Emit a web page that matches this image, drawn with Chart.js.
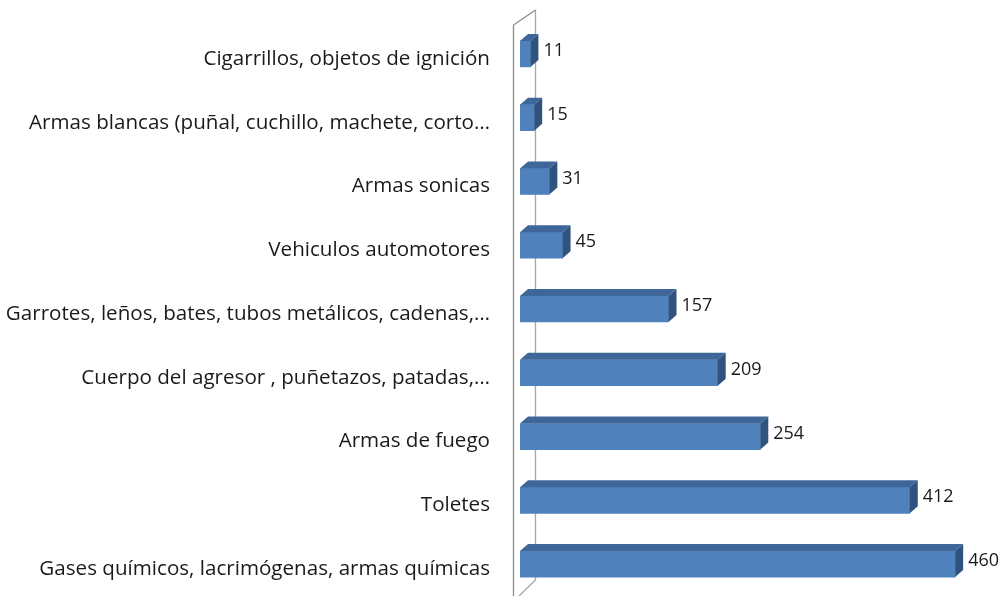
<!DOCTYPE html>
<html>
<head>
<meta charset="utf-8">
<script src="https://cdn.jsdelivr.net/npm/chart.js@4"></script>
<style>
html,body{margin:0;padding:0;background:#fff;}
#wrap{width:1002px;height:596px;position:relative;}
</style>
</head>
<body>
<div id="wrap"><canvas id="c" width="1002" height="596"></canvas></div>
<script>
const categories = [
  "Cigarrillos, objetos de ignición",
  "Armas blancas (puñal, cuchillo, machete, corto…",
  "Armas sonicas",
  "Vehiculos automotores",
  "Garrotes, leños, bates, tubos metálicos, cadenas,…",
  "Cuerpo del agresor , puñetazos, patadas,…",
  "Armas de fuego",
  "Toletes",
  "Gases químicos, lacrimógenas, armas químicas"
];
const values = [11, 15, 31, 45, 157, 209, 254, 412, 460];

const DX = 8, DY = 7;
const FRONT = '#4F81BD', TOP = '#3F6699', SIDE = '#2F527F';

const bar3d = {
  id: 'bar3d',
  beforeDatasetsDraw(chart) {
    const ctx = chart.ctx;
    const x0 = chart.scales.x.getPixelForValue(0);
    ctx.save();
    ctx.lineWidth = 1.3;
    ctx.strokeStyle = '#a6a6a6';
    ctx.beginPath();
    ctx.moveTo(x0 + 15.5, 10);
    ctx.lineTo(x0 + 15.5, 580);
    ctx.lineTo(x0 - 1, 596);
    ctx.stroke();
    ctx.strokeStyle = '#8c8c8c';
    ctx.beginPath();
    ctx.moveTo(x0 - 6.5, 596);
    ctx.lineTo(x0 - 6.5, 25);
    ctx.lineTo(x0 + 15.5, 10);
    ctx.stroke();
    ctx.restore();
  },
  afterDatasetsDraw(chart) {
    const ctx = chart.ctx;
    const meta = chart.getDatasetMeta(0);
    ctx.save();
    meta.data.forEach((el, i) => {
      const p = el.getProps(['x', 'y', 'base', 'height'], true);
      const t = p.y - p.height / 2, b = p.y + p.height / 2;
      ctx.fillStyle = TOP;
      ctx.beginPath();
      ctx.moveTo(p.base, t);
      ctx.lineTo(p.x, t);
      ctx.lineTo(p.x + DX, t - DY);
      ctx.lineTo(p.base + DX, t - DY);
      ctx.closePath();
      ctx.fill();
      ctx.fillStyle = SIDE;
      ctx.beginPath();
      ctx.moveTo(p.x, t);
      ctx.lineTo(p.x + DX, t - DY);
      ctx.lineTo(p.x + DX, b - DY);
      ctx.lineTo(p.x, b);
      ctx.closePath();
      ctx.fill();
      ctx.fillStyle = '#1a1a1a';
      ctx.font = '18px "Open Sans", sans-serif';
      ctx.textAlign = 'left';
      ctx.textBaseline = 'middle';
      ctx.fillText(String(values[i]), p.x + DX + 5, p.y - 3);
    });
    ctx.restore();
  }
};

new Chart(document.getElementById('c'), {
  type: 'bar',
  data: {
    labels: categories,
    datasets: [{
      data: values,
      backgroundColor: FRONT,
      borderWidth: 0,
      barThickness: 26
    }]
  },
  options: {
    indexAxis: 'y',
    responsive: false,
    animation: false,
    layout: { padding: { top: 22, right: 9, bottom: 0, left: 0 } },
    plugins: { legend: { display: false }, tooltip: { enabled: false } },
    scales: {
      x: {
        display: false,
        min: 0,
        max: 500
      },
      y: {
        afterFit(scale) {
          scale.width = 520;
          scale.paddingTop = 0;
          scale.paddingBottom = 0;
        },
        grid: { display: false, drawTicks: false },
        border: { display: false },
        ticks: {
          color: '#1a1a1a',
          font: { family: '"Open Sans", sans-serif', size: 20.6 },
          padding: 30,
          labelOffset: 5
        }
      }
    }
  },
  plugins: [bar3d]
});
</script>
</body>
</html>
